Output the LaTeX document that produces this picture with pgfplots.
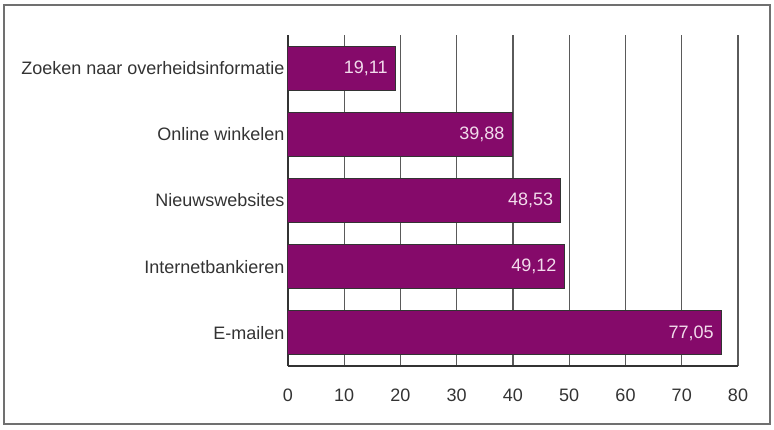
\documentclass[border=0pt]{standalone}
\usepackage{fontspec}
\setmainfont{Liberation Sans}
\usepackage{pgfplots}
\pgfplotsset{compat=1.18}
\definecolor{barpurple}{HTML}{850A6A}
\definecolor{txt}{HTML}{333333}
\definecolor{gridc}{HTML}{5A5A5A}
\definecolor{lbl}{HTML}{F2DCEC}
\definecolor{border}{HTML}{707070}
\newcommand{\lf}{\fontsize{18bp}{21bp}\selectfont}
\begin{document}
\begin{tikzpicture}[x=1bp,y=1bp]
\useasboundingbox (-288,-63) rectangle (486,366);
\draw[border, line width=2bp] (-284,-58) rectangle (482,361);
\begin{axis}[
  at={(0,0)}, anchor=south west,
  scale only axis, width=450bp, height=331bp,
  xmin=0, xmax=80, ymin=-0.5, ymax=4.5,
  xtick={0,10,...,80},
  ytick={0,1,2,3,4},
  yticklabels={E-mailen,Internetbankieren,Nieuwswebsites,Online winkelen,Zoeken naar overheidsinformatie},
  axis x line*=bottom, axis y line*=left,
  axis line style={txt, line width=1.5bp},
  major tick length=0pt,
  xmajorgrids,
  major grid style={gridc, line width=1.2bp},
  tick label style={font=\lf, text=txt},
  xticklabel style={yshift=-19bp},
  /pgf/number format/assume math mode=true,
  xbar, bar width=44bp,
  point meta=x,
  nodes near coords={\pgfmathprintnumber[fixed,fixed zerofill,precision=2,use comma]{\pgfplotspointmeta}},
  every node near coord/.append style={anchor=east, xshift=-4bp, font=\lf, text=lbl},
]
\addplot[fill=barpurple, draw=txt, line width=1bp] coordinates {
  (77.05,0) (49.12,1) (48.53,2) (39.88,3) (19.11,4)
};
\end{axis}
\end{tikzpicture}
\end{document}
